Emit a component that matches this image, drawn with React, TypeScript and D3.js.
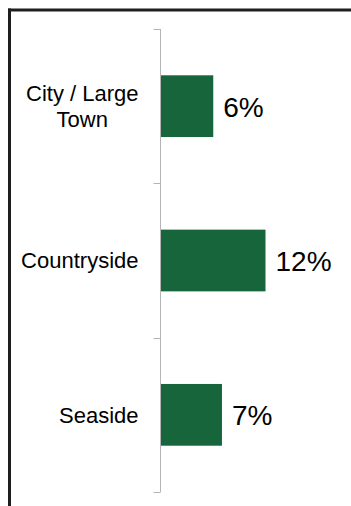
import React, { useEffect, useRef } from "react";
import * as d3 from "d3";

const categories: string[][] = [["City / Large", "Town"], ["Countryside"], ["Seaside"]];
const values: number[] = [6, 12, 7];
const valueLabels: string[] = ["6%", "12%", "7%"];

const W = 351;
const H = 506;
const FONT = "'Liberation Sans', Arial, sans-serif";

export default function App() {
  const ref = useRef<SVGSVGElement | null>(null);

  useEffect(() => {
    const svg = d3.select(ref.current);
    svg.selectAll("*").remove();

    // frame (top and left visible)
    svg.append("line").attr("x1", 8).attr("x2", W).attr("y1", 10).attr("y2", 10)
      .attr("stroke", "#1e1e1e").attr("stroke-width", 3);
    svg.append("line").attr("x1", 9.5).attr("x2", 9.5).attr("y1", 8.5).attr("y2", H)
      .attr("stroke", "#1e1e1e").attr("stroke-width", 3);

    const keys = categories.map((_, i) => String(i));
    const y = d3.scaleBand<string>().domain(keys).range([29, 492]).paddingInner(0.6).paddingOuter(0.3);
    const yTicks = d3.scaleBand<string>().domain(keys).range([29, 492]).padding(0);
    const x = d3.scaleLinear().domain([0, 12]).range([161, 265.5]);
    const axisX = 160.5;

    const g = svg.append("g");
    g.append("line").attr("x1", axisX).attr("x2", axisX).attr("y1", 29).attr("y2", 492)
      .attr("stroke", "#b5b5b5").attr("stroke-width", 1);
    const tickYs = keys.map((k) => yTicks(k)!).concat([492]);
    g.selectAll("line.tick").data(tickYs).enter().append("line")
      .attr("class", "tick")
      .attr("x1", axisX - 7).attr("x2", axisX)
      .attr("y1", (d) => Math.round(d) + 0.5).attr("y2", (d) => Math.round(d) + 0.5)
      .attr("stroke", "#b5b5b5").attr("stroke-width", 1);

    g.selectAll("rect.bar").data(values).enter().append("rect")
      .attr("class", "bar")
      .attr("x", x(0))
      .attr("y", (_, i) => y(keys[i])!)
      .attr("width", (d) => x(d) - x(0))
      .attr("height", y.bandwidth())
      .attr("fill", "#17653a");

    g.selectAll("text.val").data(values).enter().append("text")
      .attr("class", "val")
      .attr("x", (d) => x(d) + 10)
      .attr("y", (_, i) => y(keys[i])! + y.bandwidth() / 2 + 10.5)
      .attr("font-family", FONT).attr("font-size", 28).attr("fill", "#000")
      .text((_, i) => valueLabels[i]);

    const right = 138.5;
    const lh = 26;
    categories.forEach((lines, i) => {
      const cy = y(keys[i])! + y.bandwidth() / 2;
      const t = g.append("text")
        .attr("font-family", FONT).attr("font-size", 22).attr("fill", "#000")
        .attr("text-anchor", "middle");
      const spans = lines.map((ln, j) =>
        t.append("tspan").attr("y", cy + 7.8 + (j - (lines.length - 1) / 2) * lh).text(ln)
      );
      const maxW = Math.max(...spans.map((s) => (s.node() as SVGTSpanElement).getComputedTextLength()));
      spans.forEach((s) => s.attr("x", right - maxW / 2));
    });
  }, []);

  return (
    <svg
      ref={ref}
      width={W}
      height={H}
      style={{ position: "absolute", left: 0, top: 0, display: "block", background: "#fff" }}
    />
  );
}
